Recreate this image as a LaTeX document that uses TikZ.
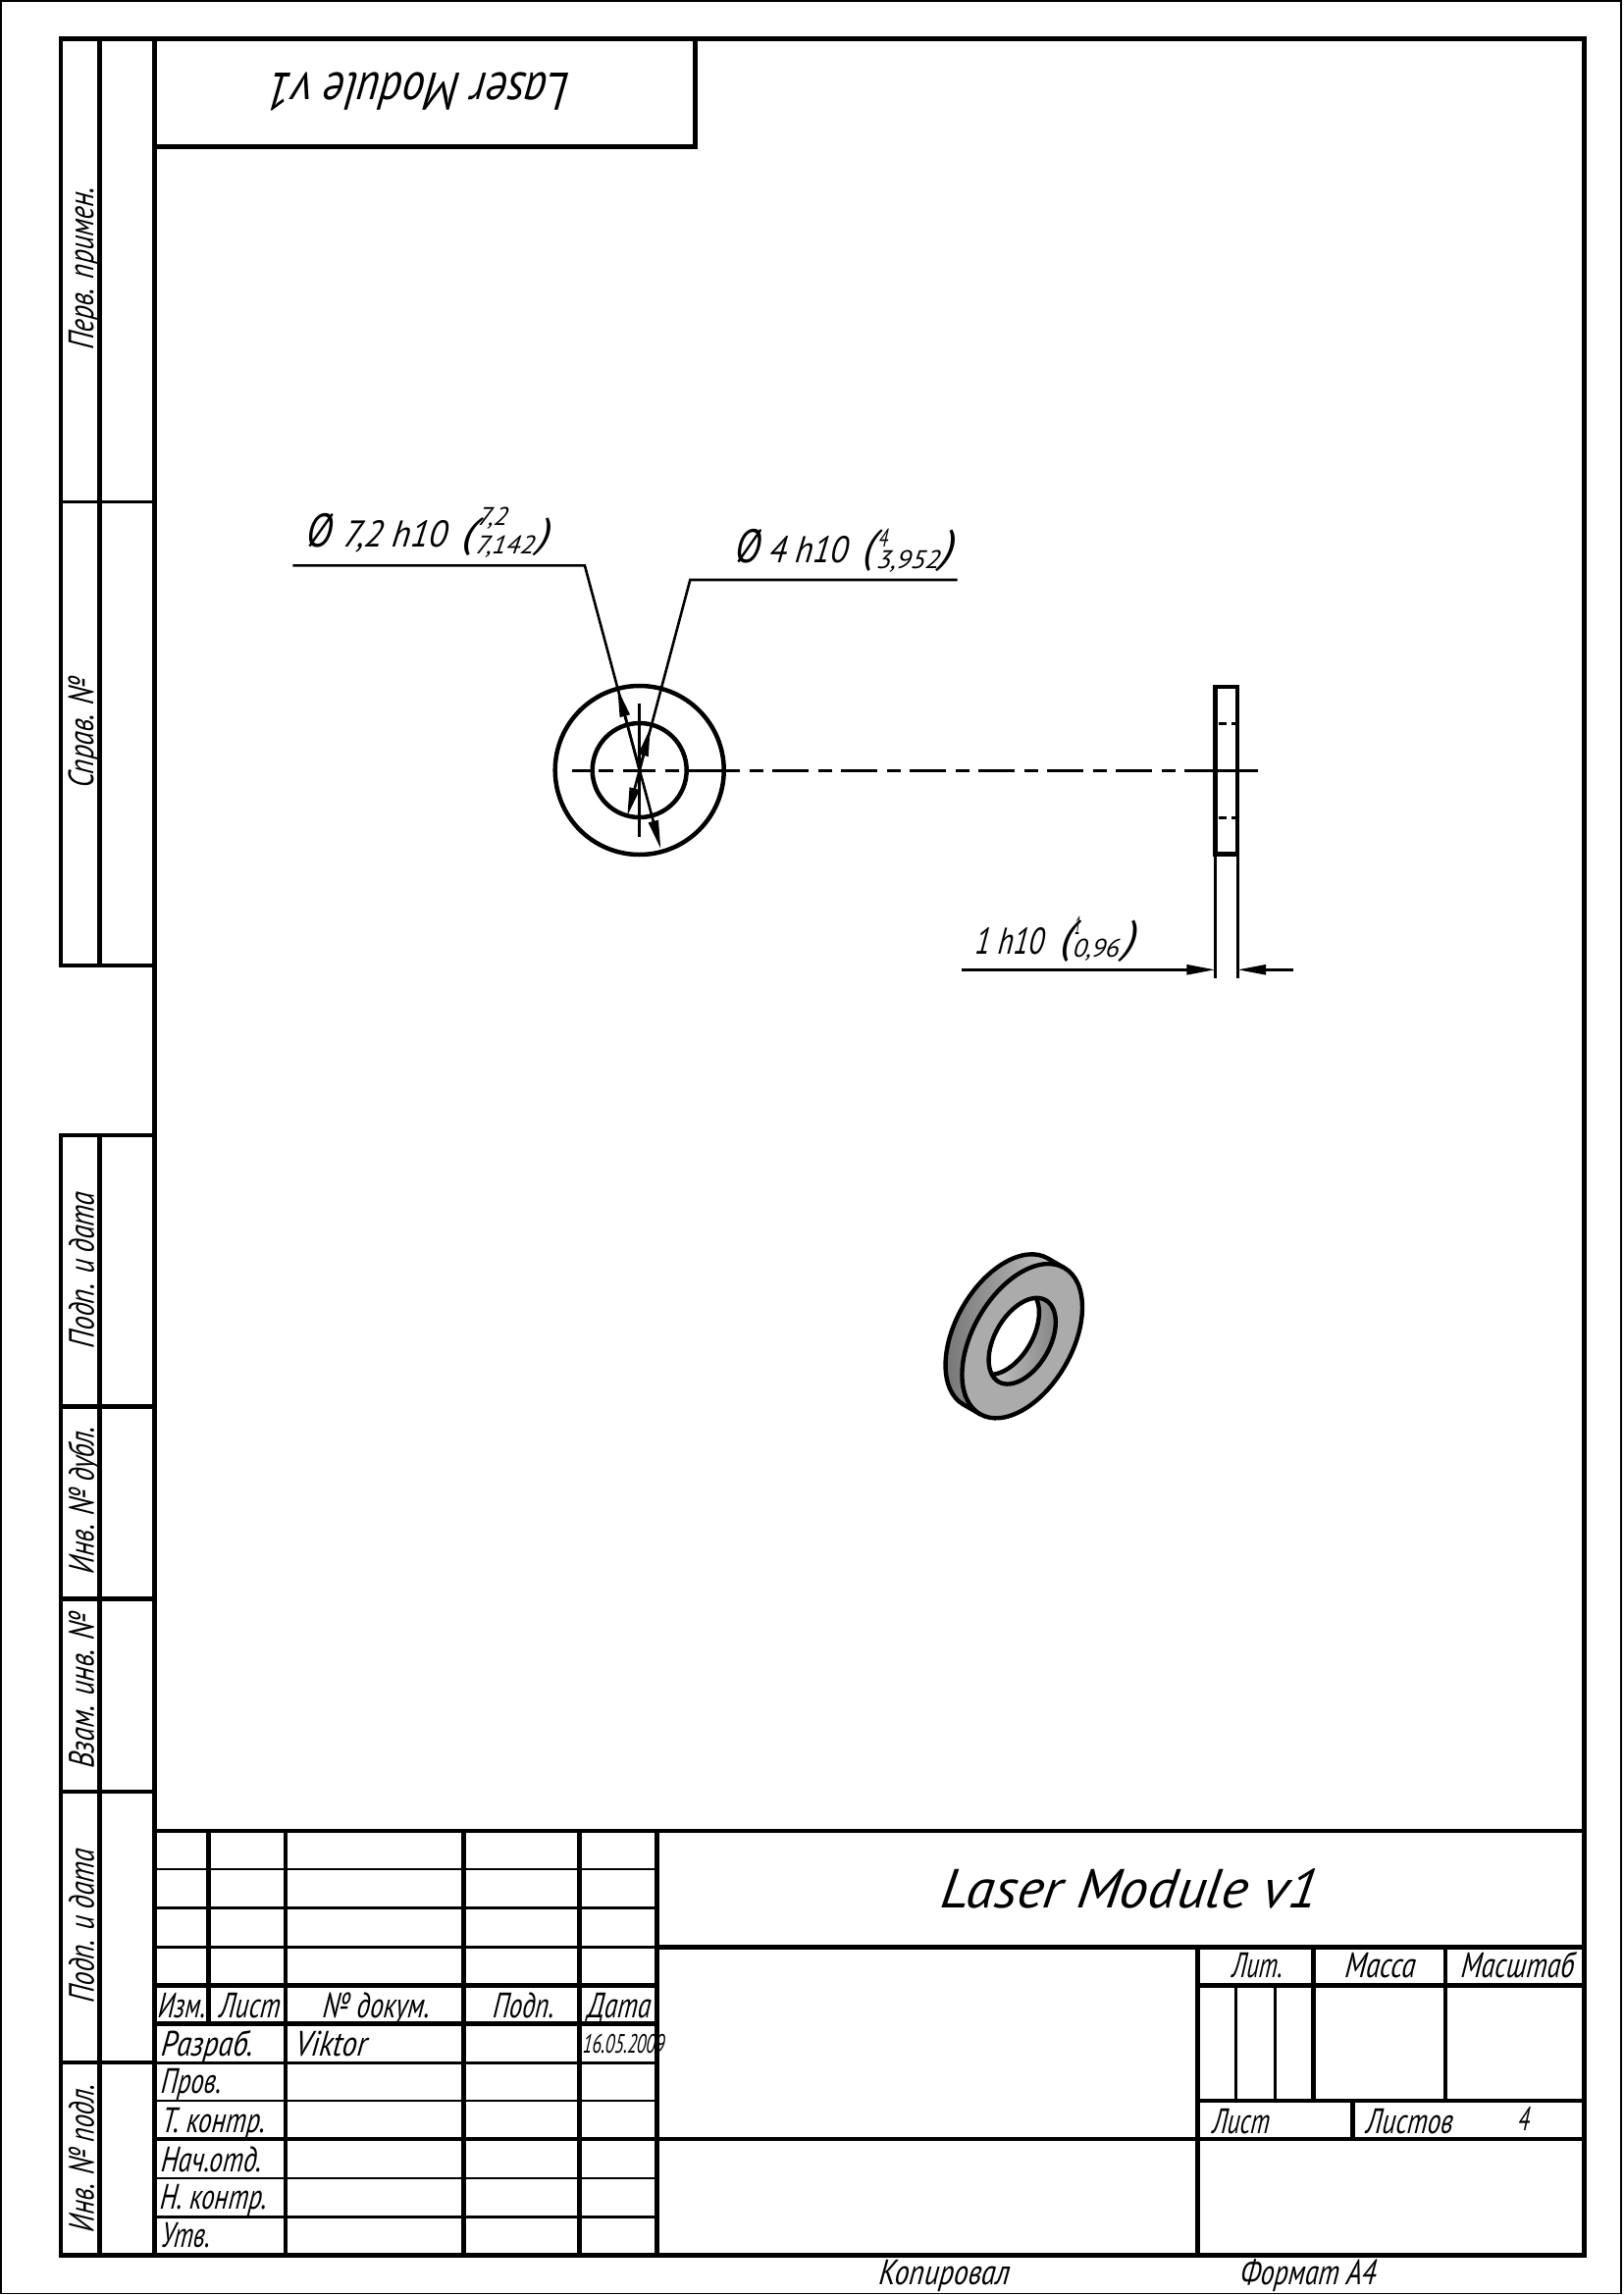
\documentclass[tikz,border=0pt]{standalone}
\usepackage{graphicx}
\usepackage{fontspec}
\setmainfont{PT Sans}[ItalicFeatures={FakeSlant=0.12}]
\usetikzlibrary{arrows.meta}
\newsavebox\tb
% text scaled horizontally to a given width in px
\newcommand\wt[2]{\sbox\tb{#2}\pgfmathsetmacro\rr{#1*0.5/\the\wd\tb}\scalebox{\rr}[1]{\usebox\tb}}
% \tx[rot]{name}{x}{baseline y}{width px}{size pt}{text}
\newcommand\tx[7][0]{\node[txt,rotate=#1] (#2) at (#3,#4) {\fontsize{#6}{#6}\selectfont\itshape\wt{#5}{#7}};}
\tikzset{
  heavy/.style={line width=2.25pt,line cap=rect,black},
  mid/.style={line width=1.6pt,black},
  light/.style={line width=1.35pt,black},
  dimln/.style={line width=1.3pt,black},
  center/.style={line width=1.5pt,black},
  hairln/.style={line width=0.7pt,black},
  washer/.style={line width=2.2pt,black,line join=round},
  txt/.style={anchor=base west,inner sep=0pt,outer sep=0pt,text=black},
  head/.style={-{Triangle[length=14.5pt,width=5pt]}},
}
\begin{document}
\begin{tikzpicture}[x=0.5pt,y=-0.5pt]
\useasboundingbox (0,0) rectangle (1654,2339);
% sheet edge
\draw[hairln] (1,1) rectangle (1652,2337.5);
% main frame
\draw[heavy] (157.5,39.4) rectangle (1614.6,2298.4);
% title block (upside down) at top
\draw[heavy] (157.5,149.3) -- (708.3,149.3) -- (708.3,39.4);
% left strip
\draw[heavy] (62,984) -- (62,39.4) -- (157.5,39.4);
\draw[heavy] (101.6,39.4) -- (101.6,984);
\draw[heavy] (62,984) -- (157.5,984);
\draw[light] (62,511.3) -- (157.5,511.3);
\draw[heavy] (62,1157) -- (157.5,1157);
\draw[heavy] (62,1157) -- (62,2298.4) -- (157.5,2298.4);
\draw[heavy] (101.6,1157) -- (101.6,2298.4);
\draw[heavy] (62,1433.3) -- (157.5,1433.3);
\draw[heavy] (62,1629.5) -- (157.5,1629.5);
\draw[heavy] (62,1826) -- (157.5,1826);
\draw[heavy] (62,2102.2) -- (157.5,2102.2);
% title block: left table
\draw[heavy] (157.5,1866) -- (1614.6,1866);
\draw[light] (157.5,1905) -- (669.6,1905);
\draw[light] (157.5,1944.3) -- (669.6,1944.3);
\draw[mid] (157.5,1984.3) -- (669.6,1984.3);
\draw[heavy] (157.5,2023.3) -- (669.6,2023.3);
\draw[heavy] (157.5,2062.3) -- (669.6,2062.3);
\draw[mid] (157.5,2102.3) -- (669.6,2102.3);
\draw[light] (157.5,2141) -- (669.6,2141);
\draw[mid] (157.5,2180) -- (669.6,2180);
\draw[light] (157.5,2220) -- (669.6,2220);
\draw[light] (157.5,2259.3) -- (669.6,2259.3);
\draw[heavy] (212.6,1866) -- (212.6,2062.3);
\draw[heavy] (291,1866) -- (291,2298.4);
\draw[heavy] (472.6,1866) -- (472.6,2298.4);
\draw[heavy] (590.5,1866) -- (590.5,2298.4);
\draw[heavy] (669.6,1866) -- (669.6,2298.4);
% title block: right part
\draw[heavy] (669.6,1984.3) -- (1614.6,1984.3);
\draw[heavy] (669.6,2180) -- (1614.6,2180);
\draw[heavy] (1220.5,1984.3) -- (1220.5,2298.4);
\draw[heavy] (1220.5,2023.3) -- (1614.6,2023.3);
\draw[heavy] (1220.5,2141) -- (1614.6,2141);
\draw[heavy] (1338.6,1984.3) -- (1338.6,2141);
\draw[heavy] (1472.8,1984.3) -- (1472.8,2141);
\draw[mid] (1259.6,2023.3) -- (1259.6,2141);
\draw[mid] (1299.6,2023.3) -- (1299.6,2141);
\draw[heavy] (1378.4,2141) -- (1378.4,2180);

% front view
\coordinate (c) at (651.7,785);
\draw[heavy] (c) circle[radius=43pt];
\draw[heavy] (c) circle[radius=24pt];
\draw[dimln] (651.7,717.3) -- (651.7,852.7);
\foreach \a/\b in {583/602,610/625,635/668,678/692,702/717,1243/1282}
  \draw[center] (\a,785) -- (\b,785);
\draw[center,dash pattern=on 18.25pt off 5pt on 7pt off 4.75pt] (717,785) -- (1243,785);
% side view
\coordinate (s1) at (1238.3,700);
\coordinate (s2) at (1261.2,870.7);
\coordinate (s3) at (1238.3,870.7);
\coordinate (e1) at (1238.3,996.7);
\coordinate (e2) at (1261.2,996.7);
\draw[heavy] (s1) rectangle (s2);
\foreach \y in {737.7,833} {
  \draw[center] (1241.7,\y) -- (1250,\y);
  \draw[center] (1255,\y) -- (1261,\y);
}
\draw[dimln] (s3) -- (e1);
\draw[dimln] (s2) -- (e2);
% dimension leaders
\coordinate (a1) at (298.4,576.3);
\coordinate (a2) at (595.9,576.3);
\coordinate (a3) at (673.3,865);
\coordinate (a4) at (629.3,701.7);
\draw[dimln,head] (a1) -- (a2) -- (a3);
\draw[dimln,head] (c) -- (a4);
\coordinate (b1) at (975.6,591);
\coordinate (b2) at (703.3,591);
\coordinate (b3) at (639.3,831.7);
\coordinate (b4) at (662.7,741.7);
\draw[dimln,head] (b1) -- (b2) -- (b3);
\draw[dimln,head] (c) -- (b4);
\coordinate (d1) at (980,988.3);
\coordinate (d2) at (1238.3,988.3);
\coordinate (d3) at (1318.3,988.3);
\coordinate (d4) at (1261.2,988.3);
\draw[dimln,head] (d1) -- (d2);
\draw[dimln,head] (d3) -- (d4);

% isometric washer
\begin{scope}[shift={(1041.7,1366.7)},rotate=60,x=0.5pt,y=0.5pt]
  \shade[left color=black!55,middle color=black!38,right color=black!15]
    (86,0) -- (86,19.5) arc[start angle=0,end angle=180,x radius=43pt,y radius=25.2pt]
    -- (-86,0) arc[start angle=180,end angle=360,x radius=43pt,y radius=25.2pt] -- cycle;
  \draw[washer] (86,0) -- (86,19.5) arc[start angle=0,end angle=180,x radius=43pt,y radius=25.2pt] -- (-86,0);
  \draw[washer,fill=black!33] (0,0) ellipse[x radius=43pt,y radius=25.2pt];
  \begin{scope}
    \clip (0,0) ellipse[x radius=24pt,y radius=14pt];
    \shade[left color=black!10,right color=black!60] (-60,-40) rectangle (60,40);
    \fill[white] (0,19.5) ellipse[x radius=24pt,y radius=14pt];
    \draw[washer] (0,19.5) ellipse[x radius=24pt,y radius=14pt];
  \end{scope}
  \draw[washer] (0,0) ellipse[x radius=24pt,y radius=14pt];
\end{scope}

% texts: upside-down title and main title
\tx[180]{t1}{581}{75}{305.5}{27}{Laser Module v1}
\tx{t2}{957.3}{1944}{384.4}{28}{Laser Module v1}
% left strip
\tx[90]{s1t}{95}{356.7}{165}{18}{Перв. примен.}
\tx[90]{s2t}{95}{803.7}{112.7}{18}{Справ. №}
\tx[90]{s3t}{95.5}{1374}{158.4}{18}{Подп. и дата}
\tx[90]{s4t}{95.5}{1604}{149.5}{18}{Инв. № дубл.}
\tx[90]{s5t}{95.5}{1802.7}{158.7}{18}{Взам. инв. №}
\tx[90]{s6t}{95.5}{2041.7}{156.7}{18}{Подп. и дата}
\tx[90]{s7t}{95.5}{2275}{150}{18}{Инв. № подл.}
% table header
\tx{h1}{160.7}{2056.7}{48.2}{18}{Изм.}
\tx{h2}{223.2}{2056.7}{61.8}{18}{Лист}
\tx{h3}{328.6}{2056.7}{108.9}{18}{№ докум.}
\tx{h4}{501.8}{2056.7}{62.5}{18}{Подп.}
\tx{h5}{598.2}{2056.7}{64.3}{18}{Дата}
% table rows
\tx{r1}{163.6}{2095}{93.6}{18}{Разраб.}
\tx{r1b}{300}{2095}{73.2}{18}{Viktor}
\tx{r1c}{593.6}{2092.7}{83.2}{13.5}{16.05.2009}
\tx{r2}{163.6}{2133}{61.4}{18}{Пров.}
\tx{r3}{164.3}{2173}{105.3}{18}{Т. контр.}
\tx{r4}{163.6}{2213}{102.4}{18}{Нач.отд.}
\tx{r5}{162.5}{2251.7}{108.9}{18}{Н. контр.}
\tx{r6}{163.6}{2290.7}{50}{18}{Утв.}
% right block
\tx{m1}{1255}{2015.7}{51.7}{18}{Лит.}
\tx{m2}{1370}{2015.7}{71.7}{18}{Масса}
\tx{m3}{1488.3}{2015.7}{115}{18}{Масштаб}
\tx{m4}{1235}{2174}{58.3}{18}{Лист}
\tx{m5}{1391.7}{2174}{88.3}{18}{Листов}
\tx{m6}{1546.7}{2171.7}{11.7}{17}{4}
\tx{f1}{895}{2328.3}{133.3}{18}{Копировал}
\tx{f2}{1263.3}{2328.3}{138.4}{18}{Формат А4}
% dimension 7.2
\tx{d1a}{311}{557}{26}{24}{Ø}
\tx{d1b}{349}{557}{105.5}{19}{7,2 h10}
\tx{d1c}{470.5}{557}{13.5}{21}{(}
\tx{d1d}{486.6}{535}{30}{13}{7,2}
\tx{d1e}{484}{564}{60}{13}{7,142}
\tx{d1f}{548.6}{557}{12.5}{21}{)}
% dimension 4
\tx{d2a}{748}{573}{25.6}{24}{Ø}
\tx{d2b}{783}{573}{80}{19}{4 h10}
\tx{d2c}{879}{572}{12}{23}{(}
\tx{d2d}{895}{557}{9.5}{13}{4}
\tx{d2e}{893}{579}{64}{13}{3,952}
\tx{d2f}{959.5}{572}{13.5}{23}{)}
% dimension 1
\tx{d3b}{993}{972}{70}{19}{1 h10}
\tx{d3c}{1080}{970}{13}{23}{(}
\tx{d3d}{1095}{952}{5.5}{13}{1}
\tx{d3e}{1093}{975}{47}{13}{0,96}
\tx{d3f}{1145}{970}{13}{23}{)}
\end{tikzpicture}
\end{document}
